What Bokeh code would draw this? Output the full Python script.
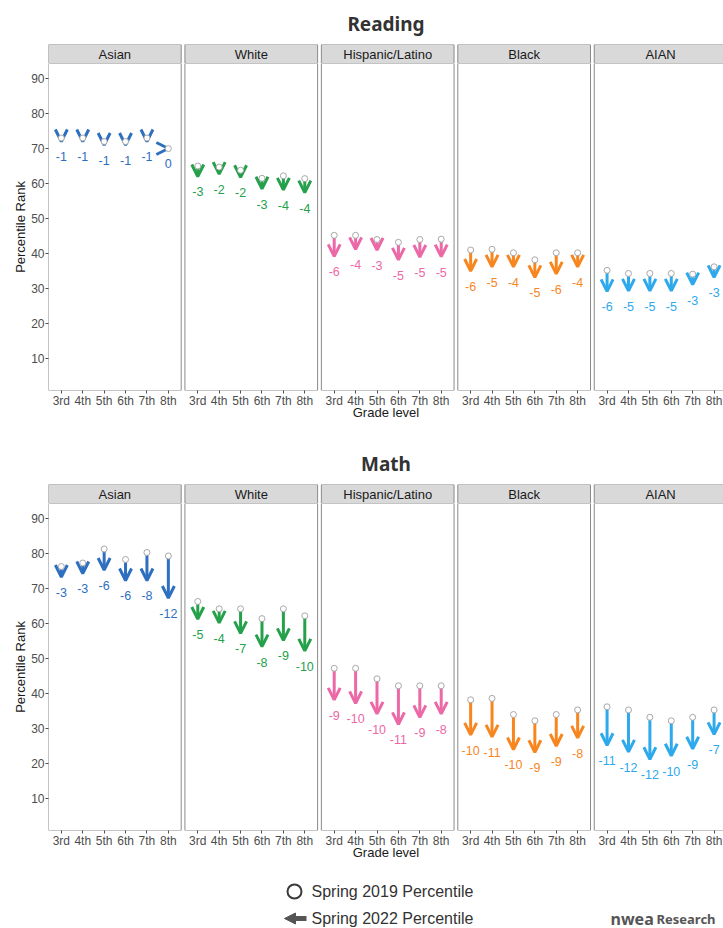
from bokeh.plotting import figure
from bokeh.models import ColumnDataSource, FixedTicker, Arrow, OpenHead, NormalHead, Range1d
from bokeh.layouts import column
from bokeh.embed import file_html
from bokeh.resources import INLINE
from bokeh.core.properties import value

# ---------------- data ----------------
groups = ["Asian", "White", "Hispanic/Latino", "Black", "AIAN"]
grades = ["3rd", "4th", "5th", "6th", "7th", "8th"]
group_colors = ["#2E6FC0", "#25A04B", "#EC68A6", "#F7861F", "#2DA9EC"]
y_ticks = [10, 20, 30, 40, 50, 60, 70, 80, 90]

reading_asian_2019 = [73, 73, 72, 72, 73, 70]
reading_asian_change = [-1, -1, -1, -1, -1, 0]
reading_white_2019 = [65, 64.7, 63.8, 61.5, 62.2, 61.4]
reading_white_change = [-3, -2, -2, -3, -4, -4]
reading_hisp_2019 = [45.2, 45.2, 44, 43.2, 44, 44.1]
reading_hisp_change = [-6, -4, -3, -5, -5, -5]
reading_black_2019 = [41, 41.2, 40.2, 38.2, 40.2, 40.2]
reading_black_change = [-6, -5, -4, -5, -6, -4]
reading_aian_2019 = [35.2, 34.3, 34.3, 34.3, 34.1, 36.2]
reading_aian_change = [-6, -5, -5, -5, -3, -3]

math_asian_2019 = [76.3, 77.3, 81.3, 78.3, 80.3, 79.3]
math_asian_change = [-3, -3, -6, -6, -8, -12]
math_white_2019 = [66.3, 64.2, 64.2, 61.4, 64.2, 62.2]
math_white_change = [-5, -4, -7, -8, -9, -10]
math_hisp_2019 = [47.2, 47.2, 44.2, 42.2, 42.2, 42.2]
math_hisp_change = [-9, -10, -10, -11, -9, -8]
math_black_2019 = [38.2, 38.6, 34.0, 32.2, 34.0, 35.3]
math_black_change = [-10, -11, -10, -9, -9, -8]
math_aian_2019 = [36.2, 35.3, 33.2, 32.2, 33.2, 35.3]
math_aian_change = [-11, -12, -12, -10, -9, -7]

legend_labels = ["Spring 2019 Percentile", "Spring 2022 Percentile"]

# ---------------- layout constants ----------------
STRIDE = 6.375          # panel-to-panel distance in x units
PAD = 0.6               # discrete expansion inside a panel
X0, X1 = 0.4, 31.94
Y_LO, Y_HI = 0.85, 94.3
LABEL_GAP = 4.4
BORDER = "#8A8A8A"
FONT = "Liberation Sans"
W = 723
LEFT = 48

lefts = [i * STRIDE + 1 - PAD for i in range(len(groups))]
rights = [i * STRIDE + len(grades) + PAD for i in range(len(groups))]
centers = [(l + r) / 2 for l, r in zip(lefts, rights)]


def strip_figure(title):
    s = figure(width=W, height=63, x_range=Range1d(X0, X1), y_range=Range1d(0, 1),
               output_backend="svg", toolbar_location=None,
               x_axis_location=None, y_axis_location=None,
               min_border_left=LEFT, min_border_right=0, min_border_top=44, min_border_bottom=0)
    s.outline_line_color = None
    s.grid.visible = False
    s.quad(left=lefts, right=rights, bottom=0, top=1, fill_color="#D9D9D9",
           line_color=BORDER, line_width=1)
    s.text(x=centers, y=[0.5] * len(groups), text=groups,
           text_align="center", text_baseline="middle", text_font=value(FONT),
           text_font_size="13px", text_color="#1A1A1A")
    s.title.text = title
    s.title.align = "center"
    s.title.offset = -7
    s.title.standoff = 15
    s.title.text_font = "Noto Sans"
    s.title.text_font_style = "bold"
    s.title.text_font_size = "19px"
    s.title.text_color = "#333333"
    return s


def panel_figure(vals2019, changes, height, bottom):
    p = figure(width=W, height=height, x_range=Range1d(X0, X1), y_range=Range1d(Y_LO, Y_HI),
               output_backend="svg", toolbar_location=None,
               min_border_left=LEFT, min_border_right=0, min_border_top=0, min_border_bottom=bottom)
    p.outline_line_color = None
    p.grid.visible = False
    p.background_fill_color = "white"
    p.border_fill_color = "white"

    p.quad(left=lefts, right=rights, bottom=Y_LO, top=Y_HI, fill_color=None,
           line_color=BORDER, line_width=1)

    tick_pos = []
    tick_lab = {}
    for gi, g in enumerate(groups):
        xs = [gi * STRIDE + k + 1 for k in range(len(grades))]
        for x, lab in zip(xs, grades):
            tick_pos.append(x)
            tick_lab[x] = lab
        y0 = vals2019[gi]
        y1 = [a + c for a, c in zip(y0, changes[gi])]
        col = group_colors[gi]
        src = ColumnDataSource(dict(x=xs, y0=y0, y1=y1,
                                    ly=[v - LABEL_GAP for v in y1],
                                    lab=[str(c) for c in changes[gi]]))
        arr = Arrow(end=OpenHead(size=12, line_width=3, line_color=col),
                    x_start="x", y_start="y0", x_end="x", y_end="y1",
                    line_width=3, line_color=col, source=src, level="underlay")
        p.add_layout(arr)
        p.scatter(x="x", y="y0", source=src, marker="circle", size=6,
                  fill_color="white", line_color="#A8A8A8", line_width=1)
        p.text(x="x", y="ly", text="lab", source=src, text_align="center",
               text_baseline="middle", text_font=value(FONT), text_font_size="12.5px",
               text_color=col)

    p.yaxis.ticker = FixedTicker(ticks=y_ticks)
    p.xaxis.ticker = FixedTicker(ticks=tick_pos)
    p.xaxis.major_label_overrides = tick_lab
    for ax in (p.xaxis, p.yaxis):
        ax.axis_line_color = None
        ax.major_tick_line_color = "#4D4D4D"
        ax.major_tick_out = 3
        ax.major_tick_in = 0
        ax.minor_tick_line_color = None
        ax.major_label_text_font = FONT
        ax.major_label_text_font_size = "12px"
        ax.major_label_text_color = "#4D4D4D"
        ax.major_label_standoff = 1
        ax.axis_label_text_font = FONT
        ax.axis_label_text_font_size = "13px"
        ax.axis_label_text_font_style = "normal"
        ax.axis_label_text_color = "#1A1A1A"
    p.xaxis.major_label_standoff = 0
    p.xaxis.axis_label = "Grade level"
    p.xaxis.axis_label_standoff = -6
    p.yaxis.axis_label = "Percentile Rank"
    p.yaxis.axis_label_standoff = 0
    return p


reading_strip = strip_figure("Reading")
reading = panel_figure(
    [reading_asian_2019, reading_white_2019, reading_hisp_2019, reading_black_2019, reading_aian_2019],
    [reading_asian_change, reading_white_change, reading_hisp_change, reading_black_change, reading_aian_change],
    377, 50)
math_strip = strip_figure("Math")
mathp = panel_figure(
    [math_asian_2019, math_white_2019, math_hisp_2019, math_black_2019, math_aian_2019],
    [math_asian_change, math_white_change, math_hisp_change, math_black_change, math_aian_change],
    367, 40)

# ---------------- legend ----------------
LH = 58
leg = figure(width=W, height=LH, x_range=Range1d(LEFT, W), y_range=Range1d(0, LH),
             output_backend="svg", toolbar_location=None,
             x_axis_location=None, y_axis_location=None,
             min_border_left=LEFT, min_border_right=0, min_border_top=0, min_border_bottom=0)
leg.grid.visible = False
leg.outline_line_color = None
ROW1, ROW2 = LH - 21, LH - 48
leg.scatter(x=[294], y=[ROW1], marker="circle", size=14, fill_color="white",
            line_color="#3A3A3A", line_width=2)
leg.add_layout(Arrow(end=NormalHead(size=11, fill_color="#555555", line_color="#555555"),
                     x_start=306, y_start=ROW2, x_end=284, y_end=ROW2,
                     line_width=5, line_color="#555555"))
leg.text(x=[311, 311], y=[ROW1, ROW2], text=legend_labels, text_align="left",
         text_baseline="middle", text_font=value(FONT), text_font_size="16px",
         text_color="#333333")
leg.text(x=[610], y=[ROW2], text=["nwea"], text_align="left", text_baseline="middle",
         text_font=value("Noto Sans"), text_font_style="bold", text_font_size="16px",
         text_color="#555555")
leg.text(x=[656], y=[ROW2], text=["Research"], text_align="left", text_baseline="middle",
         text_font=value("Noto Sans"), text_font_style="bold", text_font_size="13px",
         text_color="#555555")

layout = column(reading_strip, reading, math_strip, mathp, leg, spacing=0)
open("out.html", "w").write(file_html(layout, INLINE))
